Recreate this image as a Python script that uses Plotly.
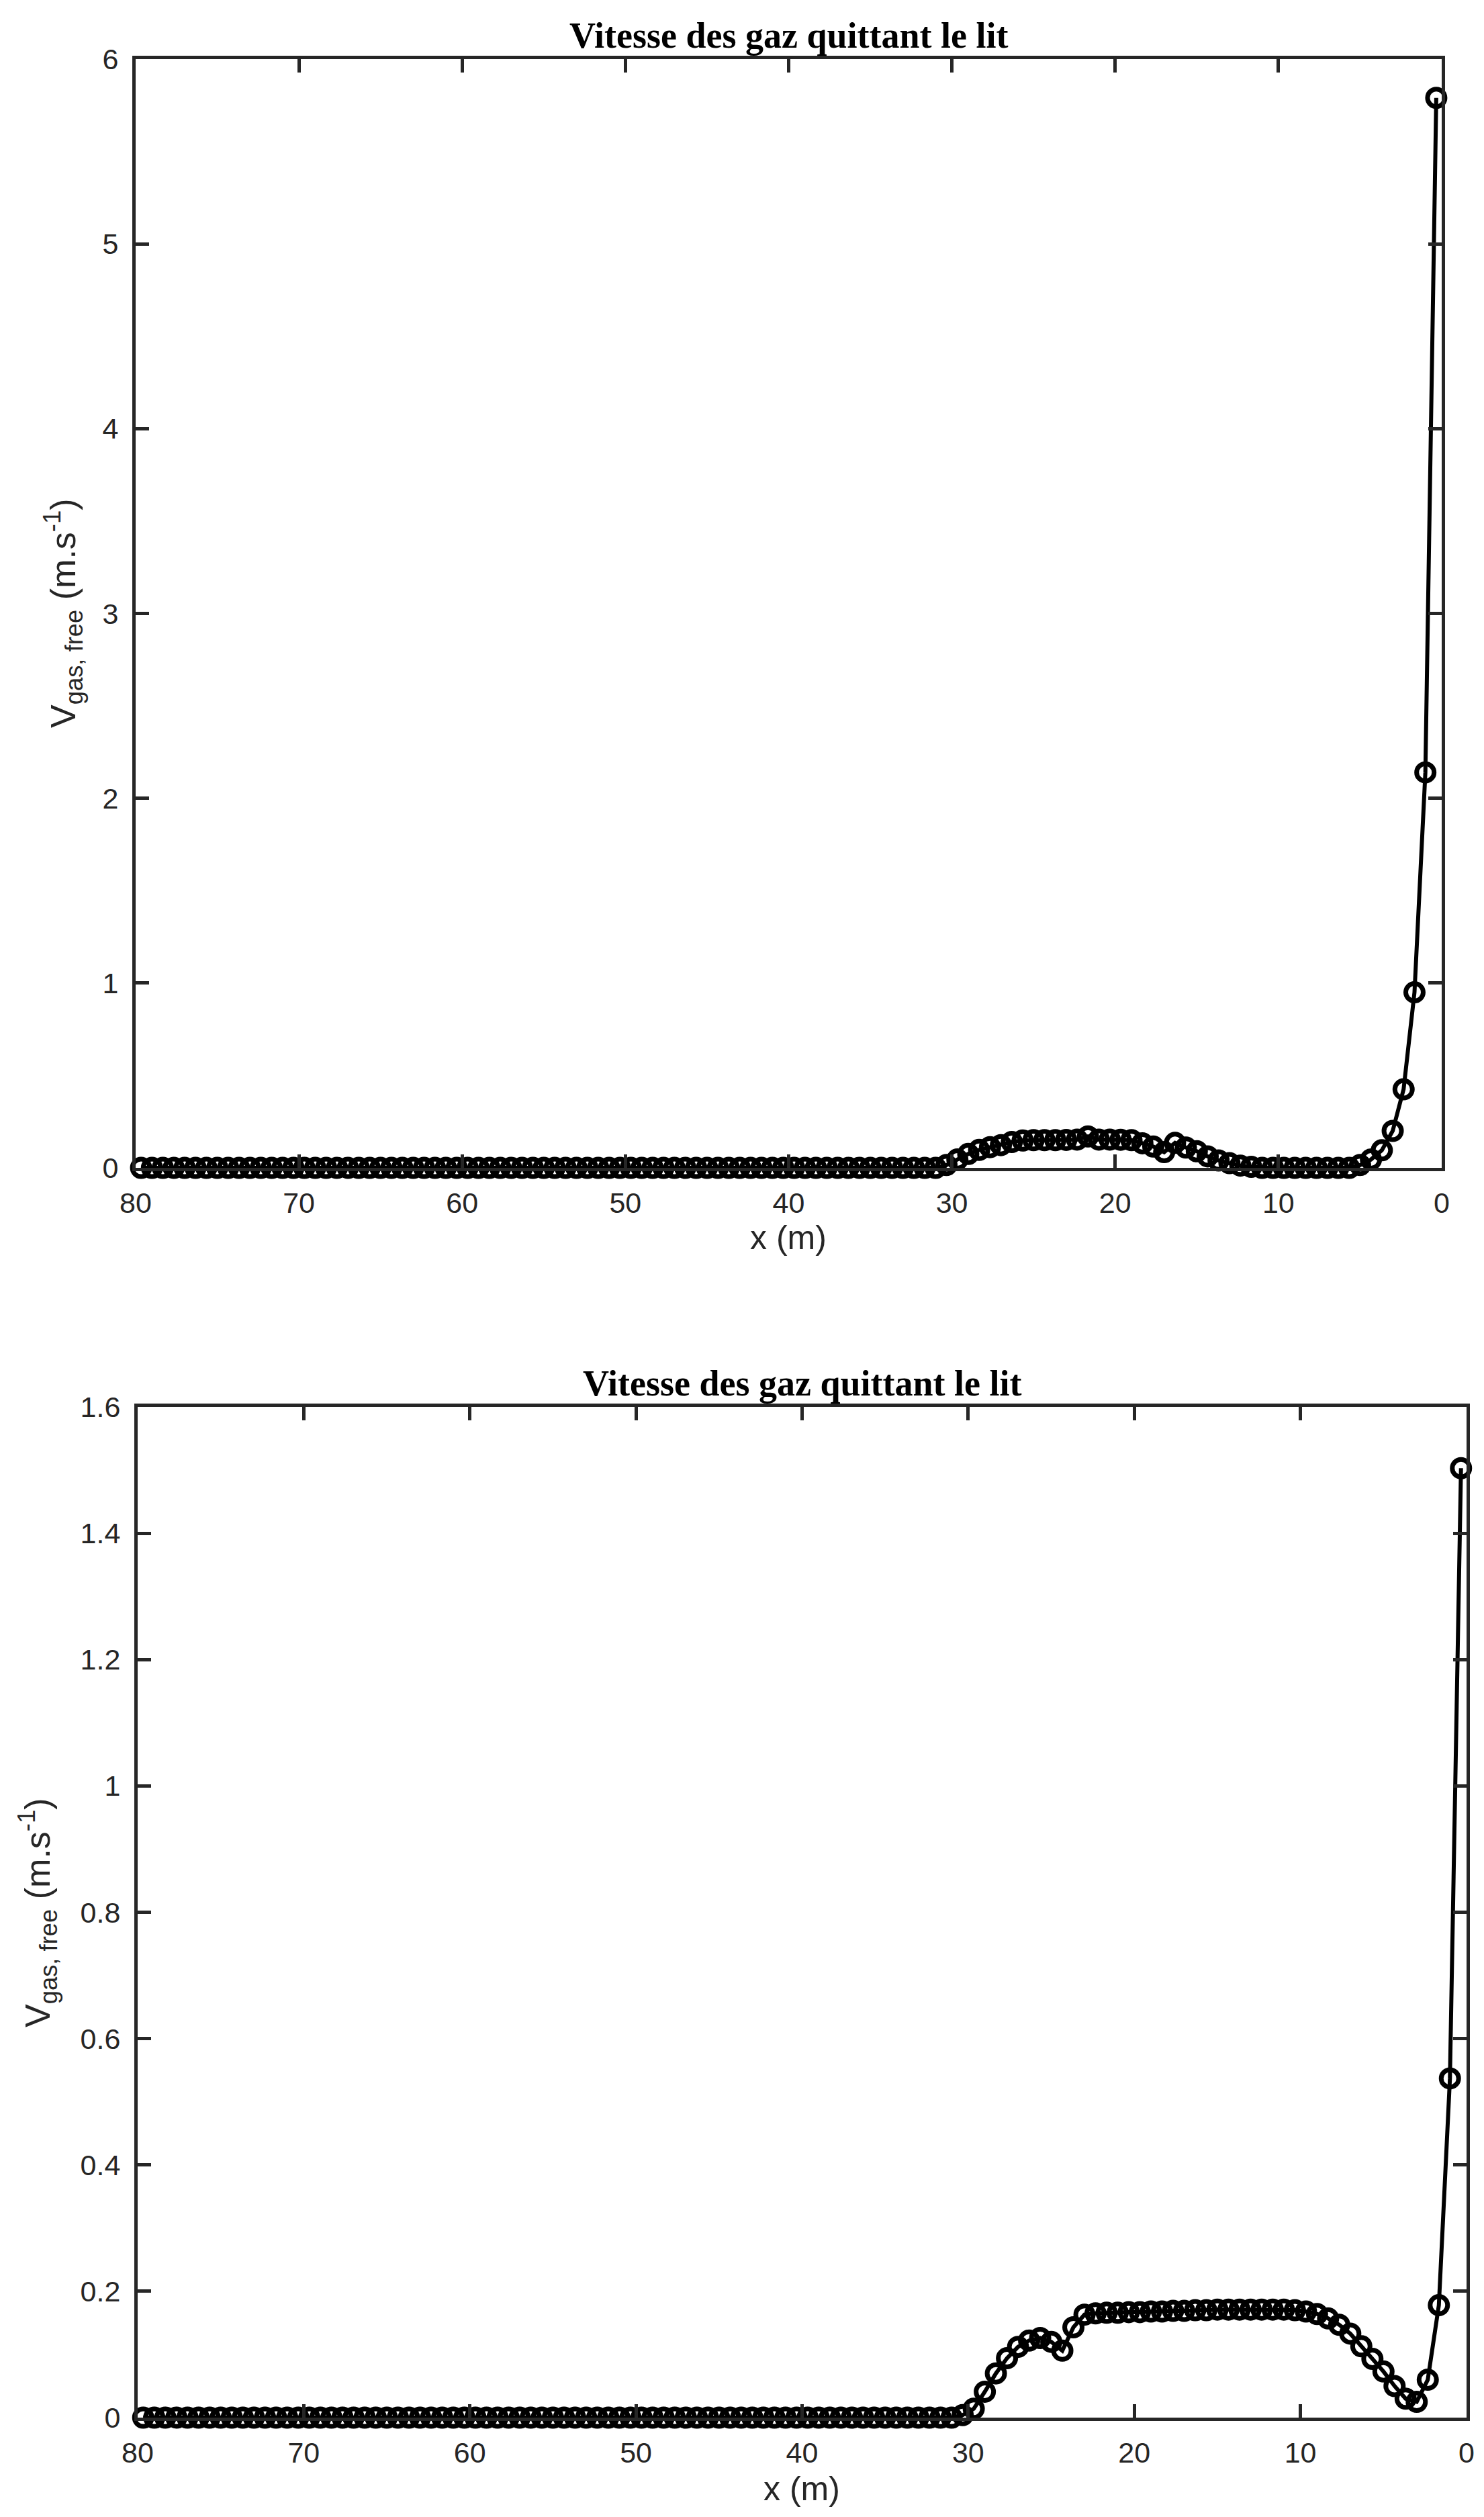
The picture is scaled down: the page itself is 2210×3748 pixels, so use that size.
import plotly.graph_objects as go

# x grid: cell centres, 2/3 m spacing, from 79.67 m down to 0.33 m
x_pos = [80 - (k + 0.5) * 2.0 / 3.0 for k in range(120)]

# Top plot values (m/s)
v_top = [
    0, 0, 0, 0, 0, 0, 0, 0, 0, 0,
    0, 0, 0, 0, 0, 0, 0, 0, 0, 0,
    0, 0, 0, 0, 0, 0, 0, 0, 0, 0,
    0, 0, 0, 0, 0, 0, 0, 0, 0, 0,
    0, 0, 0, 0, 0, 0, 0, 0, 0, 0,
    0, 0, 0, 0, 0, 0, 0, 0, 0, 0,
    0, 0, 0, 0, 0, 0, 0, 0, 0, 0,
    0, 0, 0, 0,
    0.015, 0.045, 0.075, 0.097, 0.112, 0.123, 0.140, 0.148, 0.150, 0.150,
    0.150, 0.151, 0.153, 0.170, 0.153, 0.153, 0.152, 0.150, 0.133, 0.115,
    0.085, 0.135, 0.110, 0.090, 0.062, 0.040, 0.025, 0.012, 0.005,
    0, 0, 0, 0, 0, 0, 0, 0, 0,
    0.015, 0.045, 0.095, 0.200, 0.425, 0.950, 2.140, 5.790,
]

# Bottom plot values (m/s)
v_bottom = [
    0, 0, 0, 0, 0, 0, 0, 0, 0, 0,
    0, 0, 0, 0, 0, 0, 0, 0, 0, 0,
    0, 0, 0, 0, 0, 0, 0, 0, 0, 0,
    0, 0, 0, 0, 0, 0, 0, 0, 0, 0,
    0, 0, 0, 0, 0, 0, 0, 0, 0, 0,
    0, 0, 0, 0, 0, 0, 0, 0, 0, 0,
    0, 0, 0, 0, 0, 0, 0, 0, 0, 0,
    0, 0, 0, 0,
    0.004, 0.014, 0.041, 0.070, 0.094, 0.112, 0.122, 0.126, 0.120, 0.106,
    0.143, 0.163, 0.165, 0.166, 0.166, 0.167, 0.167, 0.168, 0.168, 0.169,
    0.169, 0.170, 0.170, 0.171, 0.171, 0.171, 0.171, 0.171, 0.171, 0.171,
    0.170, 0.168, 0.164, 0.157, 0.147, 0.133, 0.113, 0.093, 0.073, 0.050,
    0.030, 0.025, 0.060, 0.178, 0.537, 1.503,
]

x_ticks = [80, 70, 60, 50, 40, 30, 20, 10, 0]
y_ticks_top = [0, 1, 2, 3, 4, 5, 6]
y_ticks_bottom = [0, 0.2, 0.4, 0.6, 0.8, 1.0, 1.2, 1.4, 1.6]

title_text = "Vitesse des gaz quittant le lit"
x_label = "x (m)"
y_label = "V<sub>gas, free</sub> (m.s<sup>-1</sup>)"

W, H = 2210, 3748
AX = "#262626"

fig = go.Figure()
line_style = dict(color="black", width=6)
marker_style = dict(symbol="circle-open", size=26, color="black", line=dict(width=7, color="black"))

fig.add_trace(go.Scatter(x=x_pos, y=v_top, mode="lines+markers", line=line_style,
                         marker=marker_style, cliponaxis=False, xaxis="x", yaxis="y",
                         showlegend=False))
fig.add_trace(go.Scatter(x=x_pos, y=v_bottom, mode="lines+markers", line=line_style,
                         marker=marker_style, cliponaxis=False, xaxis="x2", yaxis="y2",
                         showlegend=False))

tickfont = dict(family="Liberation Sans, Arial, sans-serif", size=43, color=AX)
common = dict(showline=True, linecolor=AX, linewidth=5, mirror="allticks",
              ticks="inside", ticklen=20, tickwidth=5, tickcolor=AX,
              showgrid=False, zeroline=False, tickfont=tickfont, automargin=False)

def px_x(v):
    return v / W

def px_y(v):
    return 1 - v / H

fig.update_layout(
    template="none",
    width=W, height=H,
    margin=dict(l=0, r=0, t=0, b=0, pad=0),
    paper_bgcolor="white", plot_bgcolor="white",
    xaxis=dict(domain=[px_x(194), px_x(2139)], range=[80, 0], tickvals=x_ticks,
               anchor="y", ticklabelstandoff=10, **common),
    yaxis=dict(domain=[px_y(1731), px_y(80)], range=[0, 6], tickvals=y_ticks_top,
               anchor="x", ticklabelstandoff=12, **common),
    xaxis2=dict(domain=[px_x(197), px_x(2176)], range=[80, 0], tickvals=x_ticks,
                anchor="y2", ticklabelstandoff=10, **common),
    yaxis2=dict(domain=[px_y(3592), px_y(2087)], range=[0, 1.6], tickvals=y_ticks_bottom,
                anchor="x2", ticklabelstandoff=12, **common),
)

title_font = dict(family="Liberation Serif, Times New Roman, serif", size=54, color="black")
label_font = dict(family="Liberation Sans, Arial, sans-serif", size=50, color=AX)
ylabel_font = dict(family="Liberation Sans, Arial, sans-serif", size=52, color=AX)

annotations = [
    dict(text="<b>" + title_text + "</b>", x=px_x(1166), y=px_y(45), font=title_font),
    dict(text="<b>" + title_text + "</b>", x=px_x(1186), y=px_y(2052), font=title_font),
    dict(text=x_label, x=px_x(1166), y=px_y(1835), font=label_font),
    dict(text=x_label, x=px_x(1186), y=px_y(3698), font=label_font),
    dict(text=y_label, x=px_x(86), y=px_y(905), font=ylabel_font, textangle=-90),
    dict(text=y_label, x=px_x(48), y=px_y(2840), font=ylabel_font, textangle=-90),
]
for a in annotations:
    a.update(xref="paper", yref="paper", xanchor="center", yanchor="middle", showarrow=False)
fig.update_layout(annotations=annotations)

fig.write_html("out.html")
